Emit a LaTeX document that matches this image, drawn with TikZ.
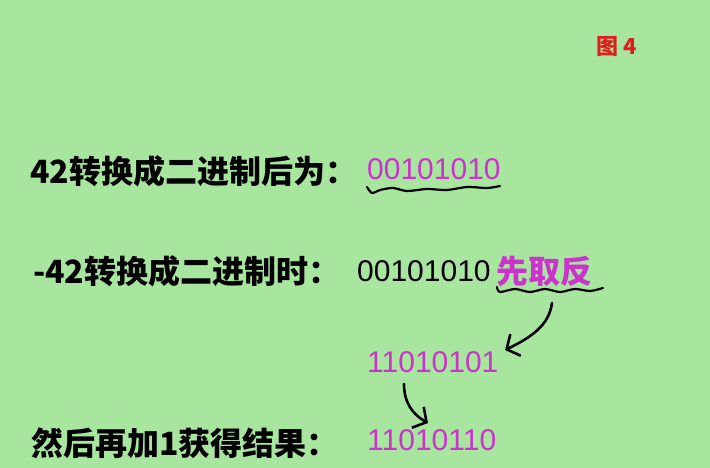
\documentclass[tikz,border=0pt]{standalone}
\usepackage{fontspec}
\setmainfont{Liberation Sans}
\newfontfamily\cjk{Noto Sans CJK SC}
\usetikzlibrary{arrows.meta}
\definecolor{bg}{RGB}{168,230,160}
\definecolor{mag}{RGB}{204,51,204}
\definecolor{figred}{RGB}{222,30,30}

\begin{document}
\begin{tikzpicture}[x=1pt,y=-1pt,
    blk/.style={anchor=base west,inner sep=0pt,font=\cjk\bfseries\fontsize{32}{38}\selectfont},
    num/.style={anchor=base west,inner sep=0pt,font=\fontsize{30}{36}\selectfont},
    wig/.style={line width=2.2pt,line cap=round,line join=round},
    hand/.style={line width=2.6pt,line cap=round,-{Straight Barb[length=10pt,width=24pt]}}]
            \useasboundingbox[fill=bg] (0,0) rectangle (710,468);
            \node[anchor=base west,inner sep=0pt,text=figred,font=\cjk\bfseries\fontsize{22}{26}\selectfont] (tu) at (596,55) {图\hspace{5pt}4};
            % first line
            \node[blk] (pos) at (30,183) {42转换成二进制后为：};
            \node[num,text=mag] (bin) at (367,180) {00101010};
            \draw[wig] plot[smooth] coordinates {(367,187) (372,193) (380,190) (393,188) (407,191) (427,189) (447,190) (467,187) (487,188) (500,186)};
            % second line
            \node[blk] (neg) at (33,283) {-42转换成二进制时：};
            \node[num] (raw) at (357,281) {00101010};
            \node[blk,text=mag] (inv) at (496,283) {先取反};
            \draw[wig] plot[smooth] coordinates {(497,287) (500,292) (515,289) (530,292) (545,289) (560,292) (575,289) (590,291) (603,288)};
            % result lines
            \node[num,text=mag] (flip) at (367,372) {11010101};
            \node[blk] (add) at (31,455) {然后再加1获得结果：};
            \node[num,text=mag] (res) at (367,450) {11010110};
            \coordinate (a1s) at (552,303);
            \coordinate (a1e) at (505,350);
            \coordinate (a2s) at (404,384);
            \coordinate (a2e) at (428,423);
            \draw[hand] (a1s) .. controls (549,325) and (532,337) .. (a1e);
            \draw[hand] (a2s) .. controls (404,402) and (412,414) .. (a2e);
        \end{tikzpicture}
\end{document}
